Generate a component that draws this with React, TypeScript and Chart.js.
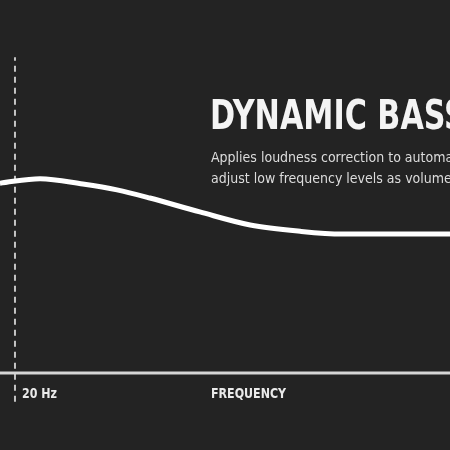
import React, { useEffect, useRef } from "react";
import { Chart, registerables } from "chart.js";

Chart.register(...registerables);

// Response curve: position along frequency axis (0-100) vs level (0-100)
const curveX = [0, 8.9, 18.4, 26, 33.3, 44.4, 55.6, 66.7, 76, 100];
const curveY = [59.3, 60.3, 59.1, 57.8, 56.0, 52.9, 50.0, 48.6, 48.0, 48.0];

// Horizontal axis baseline and dashed 20 Hz marker
const axisLevel = 17.1;
const markerX = 3.33;
const markerRange = [10.7, 87.3];

const titleText = "DYNAMIC BASS";
const subtitleLines = [
  "Applies loudness correction to automatically",
  "adjust low frequency levels as volume is lowered",
];
const tickLabels = ["20 Hz", "FREQUENCY"];
const tickPositions = [4.9, 46.9];

const BG = "#232323";
const NARROW = '"DejaVu Sans Condensed", "DejaVu Sans", sans-serif';

export default function App() {
  const canvasRef = useRef<HTMLCanvasElement | null>(null);

  useEffect(() => {
    if (!canvasRef.current) return;
    const chart = new Chart(canvasRef.current, {
      type: "line",
      data: {
        datasets: [
          {
            data: curveX.map((x, i) => ({ x, y: curveY[i] })),
            borderColor: "#ffffff",
            borderWidth: 5,
            pointRadius: 0,
            fill: false,
            cubicInterpolationMode: "monotone",
          },
          {
            data: [
              { x: 0, y: axisLevel },
              { x: 100, y: axisLevel },
            ],
            borderColor: "#d6d6d6",
            borderWidth: 3,
            pointRadius: 0,
            fill: false,
          },
          {
            data: [
              { x: markerX, y: markerRange[0] },
              { x: markerX, y: markerRange[1] },
            ],
            borderColor: "#c4c4c4",
            borderWidth: 2,
            borderDash: [6, 5],
            pointRadius: 0,
            fill: false,
          },
        ],
      },
      options: {
        animation: false,
        responsive: true,
        maintainAspectRatio: false,
        layout: { padding: 0 },
        plugins: { legend: { display: false }, tooltip: { enabled: false } },
        scales: {
          x: { type: "linear", min: 0, max: 100, display: false },
          y: { type: "linear", min: 0, max: 100, display: false },
        },
      },
    });
    return () => chart.destroy();
  }, []);

  const pct = (v: number) => `${v * 4.5}px`;

  return (
    <div
      style={{
        position: "fixed",
        left: 0,
        top: 0,
        width: 450,
        height: 450,
        background: BG,
        overflow: "hidden",
      }}
    >
      <canvas ref={canvasRef} style={{ position: "absolute", left: 0, top: 0 }} />
      <div style={{ position: "absolute", left: 0, top: 0, width: 450, height: 450 }}>
        <div
          style={{
            position: "absolute",
            left: 210,
            top: 95,
            fontFamily: NARROW,
            fontWeight: 700,
            fontSize: 41,
            lineHeight: "41px",
            color: "#f4f4f4",
            whiteSpace: "nowrap",
            transform: "scaleX(0.82)",
            transformOrigin: "left top",
          }}
        >
          {titleText}
        </div>
        <div
          style={{
            position: "absolute",
            left: 211,
            top: 147,
            fontFamily: NARROW,
            fontSize: 14,
            lineHeight: "21px",
            color: "#dcdcdc",
            whiteSpace: "nowrap",
          }}
        >
          {subtitleLines.map((l, i) => (
            <div key={i}>{l}</div>
          ))}
        </div>
        {tickLabels.map((t, i) => (
          <div
            key={t}
            style={{
              position: "absolute",
              left: pct(tickPositions[i]),
              top: 386,
              fontFamily: NARROW,
              fontWeight: 700,
              fontSize: 14,
              lineHeight: "14px",
              color: "#eaeaea",
              whiteSpace: "nowrap",
              transform: "scaleX(0.88)",
              transformOrigin: "left top",
            }}
          >
            {t}
          </div>
        ))}
      </div>
    </div>
  );
}
